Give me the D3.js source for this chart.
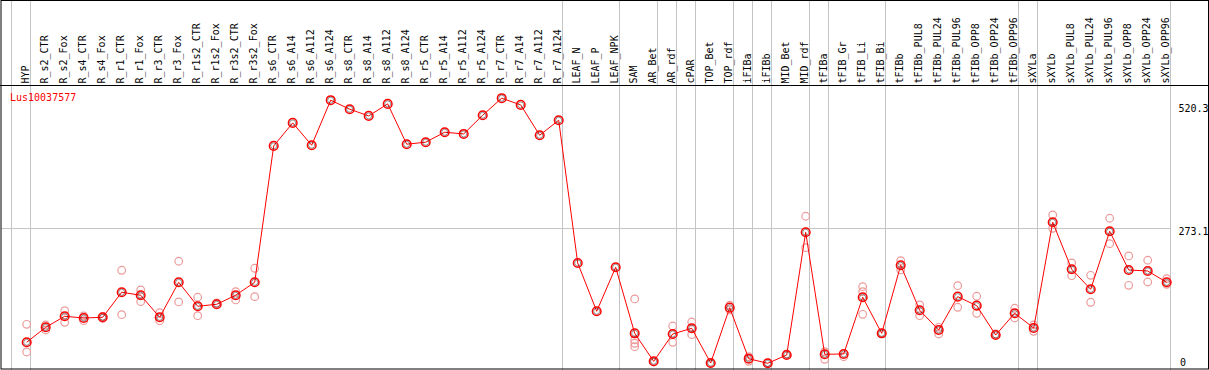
<!DOCTYPE html>
<html>
<head>
<meta charset="utf-8">
<script src="https://cdn.jsdelivr.net/npm/d3@7"></script>
<style>
    body { margin: 0; background: #fff; }
    svg { display: block; }
</style>
</head>
<body>
<div class="ExprPic"></div>
<script>
// gene and column names
let geneName = "Lus10037577";
let samples = ["HYP","R_s2_CTR","R_s2_Fox","R_s4_CTR","R_s4_Fox","R_r1_CTR","R_r1_Fox","R_r3_CTR","R_r3_Fox",
    "R_r1s2_CTR","R_r1s2_Fox","R_r3s2_CTR","R_r3s2_Fox","R_s6_CTR","R_s6_A14","R_s6_A112","R_s6_A124",
    "R_s8_CTR","R_s8_A14","R_s8_A112","R_s8_A124","R_r5_CTR","R_r5_A14","R_r5_A112","R_r5_A124",
    "R_r7_CTR","R_r7_A14","R_r7_A112","R_r7_A124","LEAF_N","LEAF_P","LEAF_NPK","SAM","AR_Bet","AR_rdf",
    "cPAR","TOP_Bet","TOP_rdf","iFIBa","iFIBb","MID_Bet","MID_rdf","tFIBa","tFIB_Gr","tFIB_Li","tFIB_Bi",
    "tFIBb","tFIBb_PUL8","tFIBb_PUL24","tFIBb_PUL96","tFIBb_OPP8","tFIBb_OPP24","tFIBb_OPP96","sXYLa",
    "sXYLb","sXYLb_PUL8","sXYLb_PUL24","sXYLb_PUL96","sXYLb_OPP8","sXYLb_OPP24","sXYLb_OPP96"];

// mean expression per column
let means = [45.4,75.3,97.3,93.9,95.3,145.3,139.3,95.3,165.2,
    117.3,121.3,139.3,165.2,437.6,483.5,439.0,528.9,
    510.9,497.5,521.5,441.0,445.0,464.9,461.5,498.9,
    532.9,519.5,458.9,488.9,203.8,107.3,195.2,63.3,7.4,61.9,
    73.3,4.0,114.5,12.6,3.4,20.0,265.1,21.4,22.0,135.3,63.3,
    199.2,109.3,69.9,136.5,118.5,59.9,103.3,73.9,
    285.1,191.2,151.2,267.1,189.8,187.8,165.2];

// replicate values per column (only the ones visible)
let reps = [[81.3,26.0],[79.9,69.9],[108.5,85.3],[97.9,88.5],[97.3,93.3],[189.2,100.5],[149.9,126.5],[104.5,88.5],[207.2,125.9],
    [135.3,98.5],[123.9],[146.5,129.9],[193.2,136.5],[],[],[],[],
    [],[],[],[],[],[],[],[],
    [],[],[],[],[],[],[],[131.9,50.0,43.4,36.6],[6.0],[77.9,45.4],
    [85.9,60.5],[3.0],[119.3,109.9],[16.6,7.4],[4.4],[22.0],[297.1,234.4],[11.4,26.6],[16.6],[156.4,146.5,101.3],[63.3],
    [208.4,189.8],[119.9,98.5],[75.3,61.9],[158.4,115.3],[137.3,103.3],[61.9],[113.3,93.9],[79.9,67.3],
    [299.7,273.1],[203.8,178.4],[179.2,125.3],[293.1,242.4],[217.8,159.2],[209.2,165.8],[172.4,161.2]];

// group boundaries (vertical lines after these column indices)
let splitsAfter = [-1,0,28,31,34,35,37,38,39,41,42,45,52,53,60];
let headerOnlySplits = [33];

// right side value labels
let tickValues = [520.3, 273.1, 0];
let tickLabels = ["520.3", "273.1", "0"];
let gridValues = [273.1];

function drawExpr(){
    let W = 1209, H = 370, headH = 85.5;
    let svg = d3.select(".ExprPic")
        .append("svg")
        .attr("width", W)
        .attr("height", H)
        .style("font-family", "'DejaVu Sans Mono', monospace")
        .style("font-size", "10px");

    let x = d3.scaleLinear()
        .domain([0, samples.length - 1])
        .range([26.7, 1166.7]);
    let y = d3.scaleLinear()
        .domain([0, 520.3])
        .range([365, 104.5]);

    let gray = "#c4c4c4";

    // horizontal grid
    svg.selectAll(".grid")
        .data(gridValues)
        .enter()
        .append("line")
        .attr("x1", 1).attr("x2", x(60) + 3.5)
        .attr("y1", d => Math.round(y(d)) + 0.5)
        .attr("y2", d => Math.round(y(d)) + 0.5)
        .attr("stroke", gray);

    // vertical separators
    svg.selectAll(".sep")
        .data(splitsAfter)
        .enter()
        .append("line")
        .attr("x1", d => Math.round(x(d) + 3.3) + 0.5)
        .attr("x2", d => Math.round(x(d) + 3.3) + 0.5)
        .attr("y1", 0).attr("y2", H)
        .attr("stroke", gray);
    svg.selectAll(".sep2")
        .data(headerOnlySplits)
        .enter()
        .append("line")
        .attr("x1", d => Math.round(x(d) + 3.3) + 0.5)
        .attr("x2", d => Math.round(x(d) + 3.3) + 0.5)
        .attr("y1", 0).attr("y2", headH)
        .attr("stroke", gray);

    // column names, rotated so they read upwards
    svg.selectAll(".lbl")
        .data(samples)
        .enter()
        .append("text")
        .attr("transform", (d, i) => "translate(" + Math.round(x(i) + 2) + "," + 83.5 + ") rotate(-90)")
        .attr("text-anchor", "start")
        .attr("fill", "#000")
        .text(d => d);

    // replicates
    let repPts = [];
    reps.forEach(function (r, i) {
        r.forEach(v => repPts.push({i: i, v: v}));
    });
    svg.selectAll(".rep")
        .data(repPts)
        .enter()
        .append("circle")
        .attr("cx", d => x(d.i))
        .attr("cy", d => y(d.v))
        .attr("r", 3.8)
        .attr("fill", "none")
        .attr("stroke", "#ec9a9a")
        .attr("stroke-width", 1.2);

    // mean line
    let line = d3.line()
        .x((d, i) => x(i))
        .y(d => y(d));
    svg.append("path")
        .attr("d", line(means))
        .attr("fill", "none")
        .attr("stroke", "#ff0000")
        .attr("stroke-width", 1);

    // mean markers
    let mk = svg.selectAll(".mean")
        .data(means)
        .enter()
        .append("g")
        .attr("transform", (d, i) => "translate(" + x(i) + "," + y(d) + ")");
    mk.append("circle")
        .attr("r", 4.3)
        .attr("fill", "none")
        .attr("stroke", "#ff0000")
        .attr("stroke-width", 1.5);
    mk.append("circle")
        .attr("r", 3)
        .attr("fill", "none")
        .attr("stroke", "#000")
        .attr("stroke-opacity", 0.7)
        .attr("stroke-width", 0.6);

    // gene name
    svg.append("text")
        .attr("x", 10)
        .attr("y", 101)
        .attr("fill", "#ff0000")
        .text(geneName);

    // value labels on the right
    svg.selectAll(".tick")
        .data(tickValues)
        .enter()
        .append("text")
        .attr("x", (d, i) => tickLabels[i].length === 1 ? 1180 : 1178.5)
        .attr("y", d => Math.min(y(d) + 7, 365.5))
        .attr("fill", "#000")
        .text((d, i) => tickLabels[i]);

    // frame and header line
    svg.append("line")
        .attr("x1", 0).attr("x2", W)
        .attr("y1", headH).attr("y2", headH)
        .attr("stroke", "#000");
    svg.append("rect")
        .attr("x", 1).attr("y", 0.5)
        .attr("width", W - 1.5).attr("height", H - 1.5)
        .attr("fill", "none")
        .attr("stroke", "#000");
}

drawExpr();
</script>
</body>
</html>
